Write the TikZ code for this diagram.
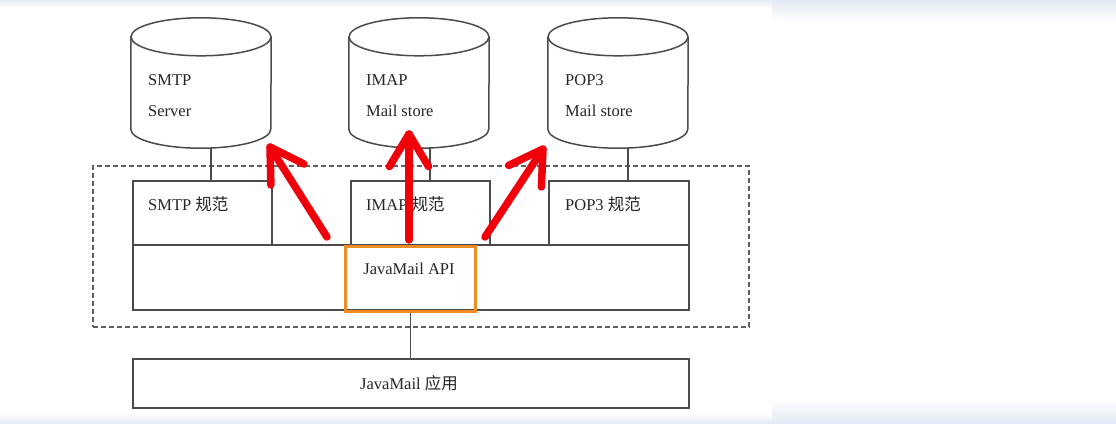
\documentclass[tikz,border=0pt]{standalone}
\usepackage{fontspec}
\setmainfont{Liberation Serif}
\newfontfamily\cjk{Noto Sans CJK SC}
\usetikzlibrary{calc}
\definecolor{linegray}{RGB}{75,75,75}
\definecolor{dashgray}{RGB}{95,95,95}
\definecolor{apiorange}{RGB}{240,140,35}
\definecolor{arrred}{RGB}{240,0,10}
\definecolor{bgblue}{RGB}{228,235,245}
\tikzset{
  gline/.style={draw=linegray, line width=1.5pt},
  boxnode/.style={draw=linegray, line width=1.5pt, rectangle, inner sep=0pt, anchor=north west},
  cylnode/.style={rectangle, inner sep=0pt, minimum width=140pt, minimum height=130pt},
  lbl/.style={font=\fontsize{16.5}{18}\selectfont, inner sep=0pt, text=black!85},
  redarr/.style={draw=arrred, line width=7.5pt, line cap=round, line join=round},
}
\newcommand\mycyl[1]{%
  \draw[gline] ([yshift=-19pt]#1.north west) -- ([yshift=19pt]#1.south west)
     arc[start angle=180,end angle=360,x radius=70,y radius=19]
     -- ([yshift=-19pt]#1.north east);
  \draw[gline] ([yshift=-19pt]#1.north) ellipse[x radius=70,y radius=19];
}
\newcommand\myredarrow[2]{%
  \draw[redarr] (#1) -- (#2);
  \draw[redarr] ($(#2)!38pt!31:(#1)$) -- (#2) -- ($(#2)!38pt!-31:(#1)$);
}
\begin{document}
\begin{tikzpicture}[x=1pt,y=1pt]
\useasboundingbox (0,0) rectangle (1116,-423);
\fill[white] (0,0) rectangle (1116,-423);
\shade[top color=bgblue, bottom color=white] (0,0) rectangle (772,-8);
\shade[top color=bgblue, bottom color=white] (772,0) rectangle (1116,-22);
\shade[top color=white, bottom color=bgblue] (0,-413) rectangle (772,-423);
\shade[top color=white, bottom color=bgblue] (772,-398) rectangle (1116,-423);

% dashed container
\node[draw=dashgray, line width=1.6pt, dash pattern=on 5pt off 3pt, rectangle, inner sep=0pt,
      anchor=north west, minimum width=656pt, minimum height=161pt] (frame) at (92,-165) {};

% cylinders
\node[cylnode] (smtpdb) at (201,-83) {};
\node[cylnode] (imapdb) at (419,-83) {};
\node[cylnode] (pop3db) at (618,-83) {};
\mycyl{smtpdb}
\mycyl{imapdb}
\mycyl{pop3db}
\node[lbl, anchor=base west] (smtpt1) at (148,-85) {SMTP};
\node[lbl, anchor=base west] (smtpt2) at (148,-116) {Server};
\node[lbl, anchor=base west] (imapt1) at (366,-85) {IMAP};
\node[lbl, anchor=base west] (imapt2) at (366,-116) {Mail store};
\node[lbl, anchor=base west] (pop3t1) at (565,-85) {POP3};
\node[lbl, anchor=base west] (pop3t2) at (565,-116) {Mail store};

% spec boxes
\node[boxnode, minimum width=139pt, minimum height=64pt] (smtpspec) at (132,-180) {};
\node[boxnode, minimum width=139pt, minimum height=64pt] (imapspec) at (350,-180) {};
\node[boxnode, minimum width=140pt, minimum height=64pt] (pop3spec) at (548,-180) {};
\node[lbl, anchor=base west] (smtpst) at (148,-210) {SMTP {\cjk 规范}};
\node[lbl, anchor=base west] (imapst) at (366,-210) {IMAP {\cjk 规范}};
\node[lbl, anchor=base west] (pop3st) at (565,-210) {POP3 {\cjk 规范}};

% API layer
\node[boxnode, minimum width=556pt, minimum height=65pt] (apibox) at (132,-244) {};
\node[draw=apiorange, line width=3pt, rectangle, inner sep=0pt, anchor=north west,
      minimum width=130pt, minimum height=65pt] (api) at (344,-245) {};
\node[lbl, anchor=base] (apit) at (409,-274) {JavaMail API};

% application
\node[boxnode, minimum width=556pt, minimum height=49pt] (app) at (132,-358) {};
\node[lbl] (appt) at (409,-383) {JavaMail {\cjk 应用}};

% connectors
\draw[gline] ([xshift=10pt]smtpdb.south) -- ([xshift=10pt]smtpdb.south |- smtpspec.north);
\draw[gline] ([xshift=11pt]imapdb.south) -- ([xshift=11pt]imapdb.south |- imapspec.north);
\draw[gline] ([xshift=10pt]pop3db.south) -- ([xshift=10pt]pop3db.south |- pop3spec.north);
\draw[gline] (api.south) -- (api.south |- app.north);

% red arrows
\coordinate (a1s) at (327,-237);
\coordinate (a1e) at (270,-147);
\coordinate (a2s) at (409,-240);
\coordinate (a2e) at (409,-134);
\coordinate (a3s) at (485,-237);
\coordinate (a3e) at (543,-149);
\myredarrow{a1s}{a1e}
\myredarrow{a2s}{a2e}
\myredarrow{a3s}{a3e}
\end{tikzpicture}
\end{document}
